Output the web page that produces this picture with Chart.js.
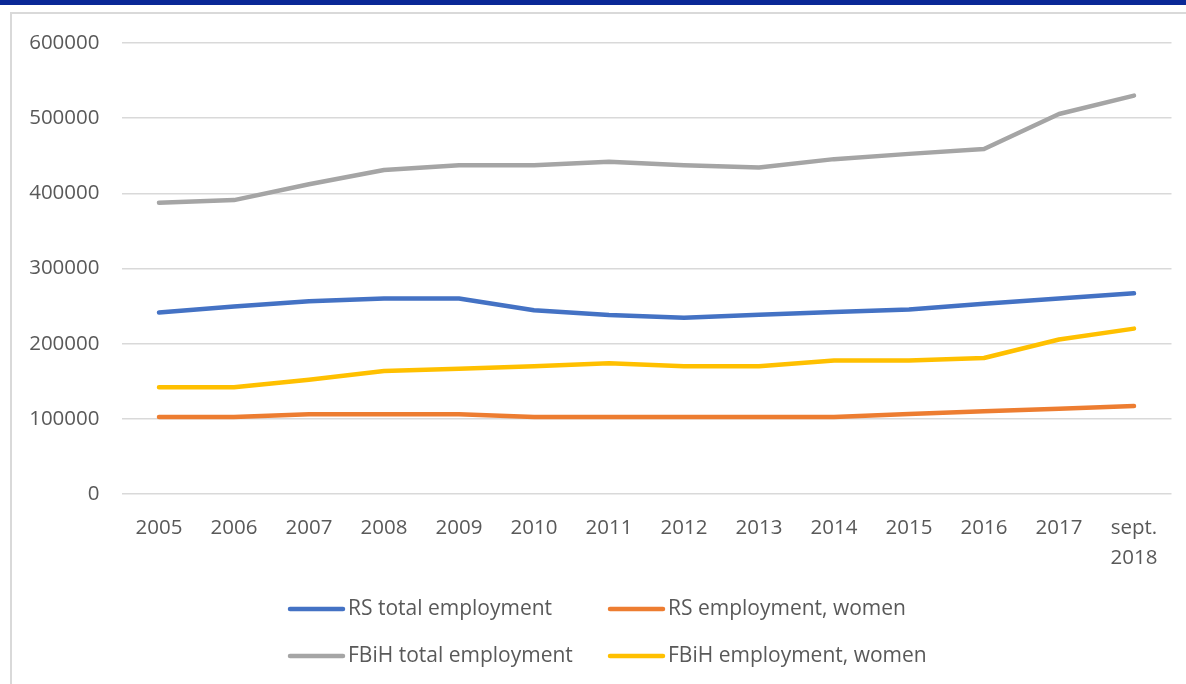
<!DOCTYPE html>
<html><head><meta charset="utf-8">
<script src="https://cdn.jsdelivr.net/npm/chart.js@4/dist/chart.umd.min.js"></script>
<style>
html,body{margin:0;padding:0;background:#fff;width:1186px;height:684px;overflow:hidden;}
#band{position:absolute;left:0;top:0;width:1186px;height:5px;background:#0a2896;}
#frame{position:absolute;left:10px;top:12px;width:1200px;height:700px;border:2px solid #d9d9d9;box-sizing:border-box;}
#wrap{position:absolute;left:0;top:0;width:1186px;height:684px;}
</style></head><body>
<div id="band"></div><div id="frame"></div>
<div id="wrap"><canvas id="c"></canvas></div>
<script>
const categories = ['2005','2006','2007','2008','2009','2010','2011','2012','2013','2014','2015','2016','2017',['sept.','2018']];
const rsTotal      = [241500, 249500, 256500, 260000, 260000, 244500, 238000, 234500, 238500, 242000, 245500, 253000, 260000, 267000];
const rsWomen      = [102500, 102500, 106000, 106000, 106000, 102500, 102500, 102500, 102500, 102500, 106500, 110000, 113500, 117000];
const fbihTotal    = [387500, 391000, 412000, 431000, 437500, 437500, 442000, 437500, 434500, 445500, 452500, 459000, 505500, 530000];
const fbihWomen    = [142000, 142000, 152000, 163500, 166500, 170000, 174000, 170000, 170000, 177500, 177500, 181000, 205500, 220000];
const yTicks       = [0, 100000, 200000, 300000, 400000, 500000, 600000];
const seriesNames  = ['RS total employment', 'RS employment, women', 'FBiH total employment', 'FBiH employment, women'];
const seriesColors = ['#4472C4', '#ED7D31', '#A5A5A5', '#FFC000'];

const TXT = '#595959';
const FONT = 'Open Sans';

function ds(i, data){
  return {label: seriesNames[i], data: data, borderColor: seriesColors[i], backgroundColor: seriesColors[i],
    borderWidth: 4.5, pointRadius: 0, pointHoverRadius: 0, tension: 0, borderCapStyle: 'round', borderJoinStyle: 'round', fill: false};
}

const gridLegend = {
  id: 'gridLegend',
  afterDraw(chart){
    const ctx = chart.ctx;
    const cols = [288, 608], rows = [609, 656];
    ctx.save();
    ctx.font = '21px "' + FONT + '"';
    ctx.textBaseline = 'middle';
    ctx.textAlign = 'left';
    chart.data.datasets.forEach((d, i) => {
      const x = cols[i % 2], y = rows[Math.floor(i / 2)];
      ctx.strokeStyle = d.borderColor;
      ctx.lineWidth = 4.5;
      ctx.lineCap = 'round';
      ctx.beginPath(); ctx.moveTo(x + 2, y); ctx.lineTo(x + 55, y); ctx.stroke();
      ctx.fillStyle = TXT;
      ctx.fillText(d.label, x + 60, y);
    });
    ctx.restore();
  }
};

new Chart(document.getElementById('c'), {
  type: 'line',
  data: {labels: categories, datasets: [ds(0, rsTotal), ds(1, rsWomen), ds(2, fbihTotal), ds(3, fbihWomen)]},
  options: {
    responsive: true, maintainAspectRatio: false, animation: false, devicePixelRatio: 1,
    layout: {padding: {left: 0, top: 43, right: 14.5, bottom: 0}},
    plugins: {legend: {display: false}, tooltip: {enabled: false}, title: {display: false}},
    scales: {
      x: {
        offset: true,
        grid: {display: false, drawTicks: false, offset: true},
        border: {display: false},
        ticks: {color: TXT, padding: 20, font: {family: FONT, size: 20.5, lineHeight: 1.42}, maxRotation: 0, autoSkip: false},
        afterFit(s){ s.height = 190; }
      },
      y: {
        min: 0, max: 600000,
        afterBuildTicks(s){ s.ticks = yTicks.map(v => ({value: v})); },
        grid: {color: '#d9d9d9', lineWidth: 1.5, drawTicks: false},
        border: {display: false},
        ticks: {color: TXT, padding: 22, font: {family: FONT, size: 20.5}, callback: v => String(v)},
        afterFit(s){ s.width = 121.5; }
      }
    }
  },
  plugins: [gridLegend]
});
</script>
</body></html>
